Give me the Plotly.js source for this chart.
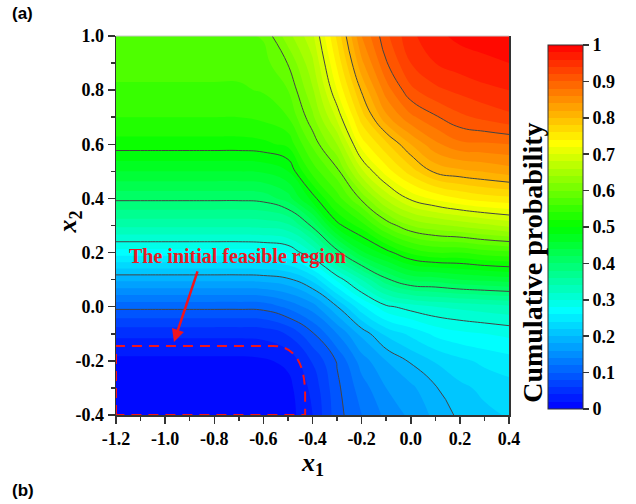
<!DOCTYPE html>
<html>
<head>
<meta charset="utf-8">
<script src="https://cdn.plot.ly/plotly-3.0.1.min.js"></script>
<style>html,body{margin:0;padding:0;background:#fff;}#chart{width:636px;height:504px;}</style>
</head>
<body>
<div id="chart"></div>
<script>
// grid axes
const x1Values = [-1.2, -1.1, -1.0, -0.9, -0.8, -0.7, -0.6, -0.5, -0.4, -0.3, -0.2, -0.1, 0.0, 0.1, 0.2, 0.3, 0.4];
const x2Values = [-0.4, -0.3, -0.2, -0.1, 0.0, 0.1, 0.2, 0.3, 0.4, 0.5, 0.6, 0.7, 0.8, 0.9, 1.0];

// cumulative probability, one array per x1 column (values along x2, bottom to top)
const colLeft = [0.0, 0.003, 0.015, 0.045, 0.106, 0.185, 0.27, 0.345, 0.405, 0.46, 0.512, 0.54, 0.557, 0.567, 0.575];
const colM06 = [0.002, 0.005, 0.017, 0.047, 0.108, 0.187, 0.272, 0.347, 0.408, 0.463, 0.515, 0.545, 0.562, 0.572, 0.582];
const colM05 = [0.01, 0.013, 0.025, 0.062, 0.125, 0.195, 0.28, 0.355, 0.43, 0.48, 0.525, 0.56, 0.58, 0.601, 0.632];
const colM04 = [0.04, 0.046, 0.062, 0.097, 0.15, 0.225, 0.32, 0.405, 0.49, 0.548, 0.585, 0.615, 0.637, 0.656, 0.675];
const colM03 = [0.092, 0.095, 0.102, 0.14, 0.199, 0.285, 0.39, 0.492, 0.55, 0.593, 0.64, 0.685, 0.72, 0.745, 0.765];
const colM02 = [0.12, 0.13, 0.15, 0.186, 0.255, 0.34, 0.455, 0.53, 0.605, 0.675, 0.73, 0.77, 0.803, 0.835, 0.86];
const colM01 = [0.145, 0.16, 0.18, 0.225, 0.295, 0.395, 0.49, 0.585, 0.665, 0.73, 0.775, 0.835, 0.87, 0.898, 0.915];
const colP00 = [0.165, 0.175, 0.203, 0.245, 0.31, 0.425, 0.525, 0.62, 0.705, 0.77, 0.82, 0.875, 0.915, 0.94, 0.955];
const colP01 = [0.185, 0.198, 0.222, 0.265, 0.32, 0.43, 0.54, 0.635, 0.725, 0.805, 0.855, 0.897, 0.935, 0.96, 0.975];
const colP02 = [0.205, 0.215, 0.235, 0.275, 0.325, 0.44, 0.54, 0.645, 0.74, 0.815, 0.875, 0.915, 0.945, 0.97, 0.985];
const colP03 = [0.215, 0.225, 0.245, 0.28, 0.33, 0.445, 0.55, 0.655, 0.75, 0.822, 0.877, 0.925, 0.955, 0.975, 0.99];
const colP04 = [0.222, 0.232, 0.252, 0.285, 0.335, 0.45, 0.555, 0.665, 0.755, 0.83, 0.88, 0.935, 0.96, 0.98, 0.995];

const zByColumn = [colLeft, colLeft, colLeft, colLeft, colLeft, colLeft, colM06, colM05, colM04, colM03, colM02, colM01, colP00, colP01, colP02, colP03, colP04];

// tick labels
const xTickVals = [-1.2, -1.0, -0.8, -0.6, -0.4, -0.2, 0.0, 0.2, 0.4];
const xTickText = ['-1.2', '-1.0', '-0.8', '-0.6', '-0.4', '-0.2', '0.0', '0.2', '0.4'];
const yTickVals = [-0.4, -0.2, 0.0, 0.2, 0.4, 0.6, 0.8, 1.0];
const yTickText = ['-0.4', '-0.2', '0.0', '0.2', '0.4', '0.6', '0.8', '1.0'];
const cbTickVals = [0, 0.1, 0.2, 0.3, 0.4, 0.5, 0.6, 0.7, 0.8, 0.9, 1];
const cbTickText = ['0', '0.1', '0.2', '0.3', '0.4', '0.5', '0.6', '0.7', '0.8', '0.9', '1'];

// feasible region outline
const regionX = [-1.2, -0.43];
const regionY = [-0.4, -0.145];

const serif = '"Liberation Serif", "Times New Roman", serif';
const jet = [[0, 'rgb(0,0,255)'], [0.27, 'rgb(0,255,255)'], [0.5, 'rgb(0,255,0)'], [0.73, 'rgb(255,255,0)'], [1, 'rgb(255,0,0)']];

const fillTrace = {
  type: 'contour', x: x1Values, y: x2Values, z: zByColumn, transpose: true,
  zmin: 0, zmax: 1, autocontour: false,
  contours: {start: 0, end: 1, size: 0.02, coloring: 'fill', showlines: false},
  line: {width: 0, smoothing: 1.3},
  colorscale: jet,
  colorbar: {
    x: 1.099, xanchor: 'left', xpad: 0, ypad: 0,
    y: 0.496, yanchor: 'middle', len: 0.96, lenmode: 'fraction',
    thickness: 35, thicknessmode: 'pixels',
    outlinewidth: 1, outlinecolor: '#333',
    ticks: 'outside', ticklen: 6, tickwidth: 1.5, tickcolor: '#333',
    tickmode: 'array', tickvals: cbTickVals, ticktext: cbTickText,
    tickfont: {family: serif, size: 18, color: '#000', weight: 'bold'}
  },
  hoverinfo: 'skip'
};

const lineTrace = {
  type: 'contour', x: x1Values, y: x2Values, z: zByColumn, transpose: true,
  autocontour: false, showscale: false,
  contours: {start: 0.1, end: 0.9, size: 0.1, coloring: 'none'},
  line: {color: '#444', width: 1, smoothing: 1.3},
  hoverinfo: 'skip'
};

const rx0 = regionX[0], rx1 = regionX[1], ry0 = regionY[0], ry1 = regionY[1];
const regionPath = `M ${rx0},${ry0} L ${rx0},${ry1} L ${rx1 - 0.13},${ry1} Q ${rx1},${ry1} ${rx1},${ry1 - 0.185} L ${rx1},${ry0} Z`;

const layout = {
  width: 636, height: 504,
  margin: {l: 116, r: 127, t: 36, b: 89, pad: 0},
  paper_bgcolor: '#fff', plot_bgcolor: '#fff',
  showlegend: false,
  xaxis: {
    range: [-1.2, 0.4], showgrid: false, zeroline: false,
    showline: true, linecolor: '#333', linewidth: 1.5, mirror: false,
    ticks: 'outside', ticklen: 7, tickwidth: 1.5, tickcolor: '#333',
    tickmode: 'array', tickvals: xTickVals, ticktext: xTickText,
    tickfont: {family: serif, size: 18, color: '#000', weight: 'bold'},
    minor: {tickmode: 'linear', tick0: -1.2, dtick: 0.1, ticks: 'outside', ticklen: 4, tickwidth: 1.5, tickcolor: '#333', showgrid: false}
  },
  yaxis: {
    range: [-0.4, 1.0], showgrid: false, zeroline: false,
    showline: true, linecolor: '#333', linewidth: 1.5, mirror: true,
    ticks: 'outside', ticklen: 7, tickwidth: 1.5, tickcolor: '#333',
    tickmode: 'array', tickvals: yTickVals, ticktext: yTickText,
    tickfont: {family: serif, size: 18, color: '#000', weight: 'bold'},
    minor: {tickmode: 'linear', tick0: -0.4, dtick: 0.1, ticks: 'outside', ticklen: 4, tickwidth: 1.5, tickcolor: '#333', showgrid: false}
  },
  shapes: [
    {type: 'path', xref: 'x', yref: 'y', path: regionPath, line: {color: 'rgb(240,20,30)', width: 2, dash: '10px,7px'}, layer: 'above'},
    {type: 'line', xref: 'paper', yref: 'paper', x0: 0, x1: 1, y0: 1, y1: 1, line: {color: '#c8c8c8', width: 1}}
  ],
  annotations: [
    {text: 'The initial feasible region', xref: 'x', yref: 'y', x: -0.707, y: 0.187, showarrow: false,
     font: {family: serif, size: 20, color: 'rgb(235,25,35)', weight: 'bold'}},
    {text: '', xref: 'x', yref: 'y', axref: 'x', ayref: 'y', x: -0.964, y: -0.13, ax: -0.866, ay: 0.136,
     showarrow: true, arrowhead: 2, arrowsize: 1, arrowwidth: 2.5, arrowcolor: 'rgb(240,20,30)'},
    {text: '<i>x</i><sub>1</sub>', xref: 'paper', yref: 'paper', x: 0.5, y: -0.13, xanchor: 'center', yanchor: 'middle', showarrow: false,
     font: {family: serif, size: 26, color: '#000', weight: 'bold'}},
    {text: '<i>x</i><sub>2</sub>', xref: 'paper', yref: 'paper', x: -0.12, y: 0.51, xanchor: 'center', yanchor: 'middle', textangle: -90, showarrow: false,
     font: {family: serif, size: 26, color: '#000', weight: 'bold'}},
    {text: 'Cumulative probability', xref: 'paper', yref: 'paper', x: 1.058, y: 0.401, xanchor: 'center', yanchor: 'middle', textangle: -90, showarrow: false,
     font: {family: serif, size: 28, color: '#000', weight: 'bold'}},
    {text: '(a)', xref: 'paper', yref: 'paper', x: -0.27, y: 1.06, xanchor: 'left', yanchor: 'middle', showarrow: false,
     font: {family: 'Liberation Sans, Arial, sans-serif', size: 17, color: '#000', weight: 'bold'}},
    {text: '(b)', xref: 'paper', yref: 'paper', x: -0.27, y: -0.2, xanchor: 'left', yanchor: 'middle', showarrow: false,
     font: {family: 'Liberation Sans, Arial, sans-serif', size: 17, color: '#000', weight: 'bold'}}
  ]
};

Plotly.newPlot('chart', [fillTrace, lineTrace], layout, {displayModeBar: false, staticPlot: true});
</script>
</body>
</html>
